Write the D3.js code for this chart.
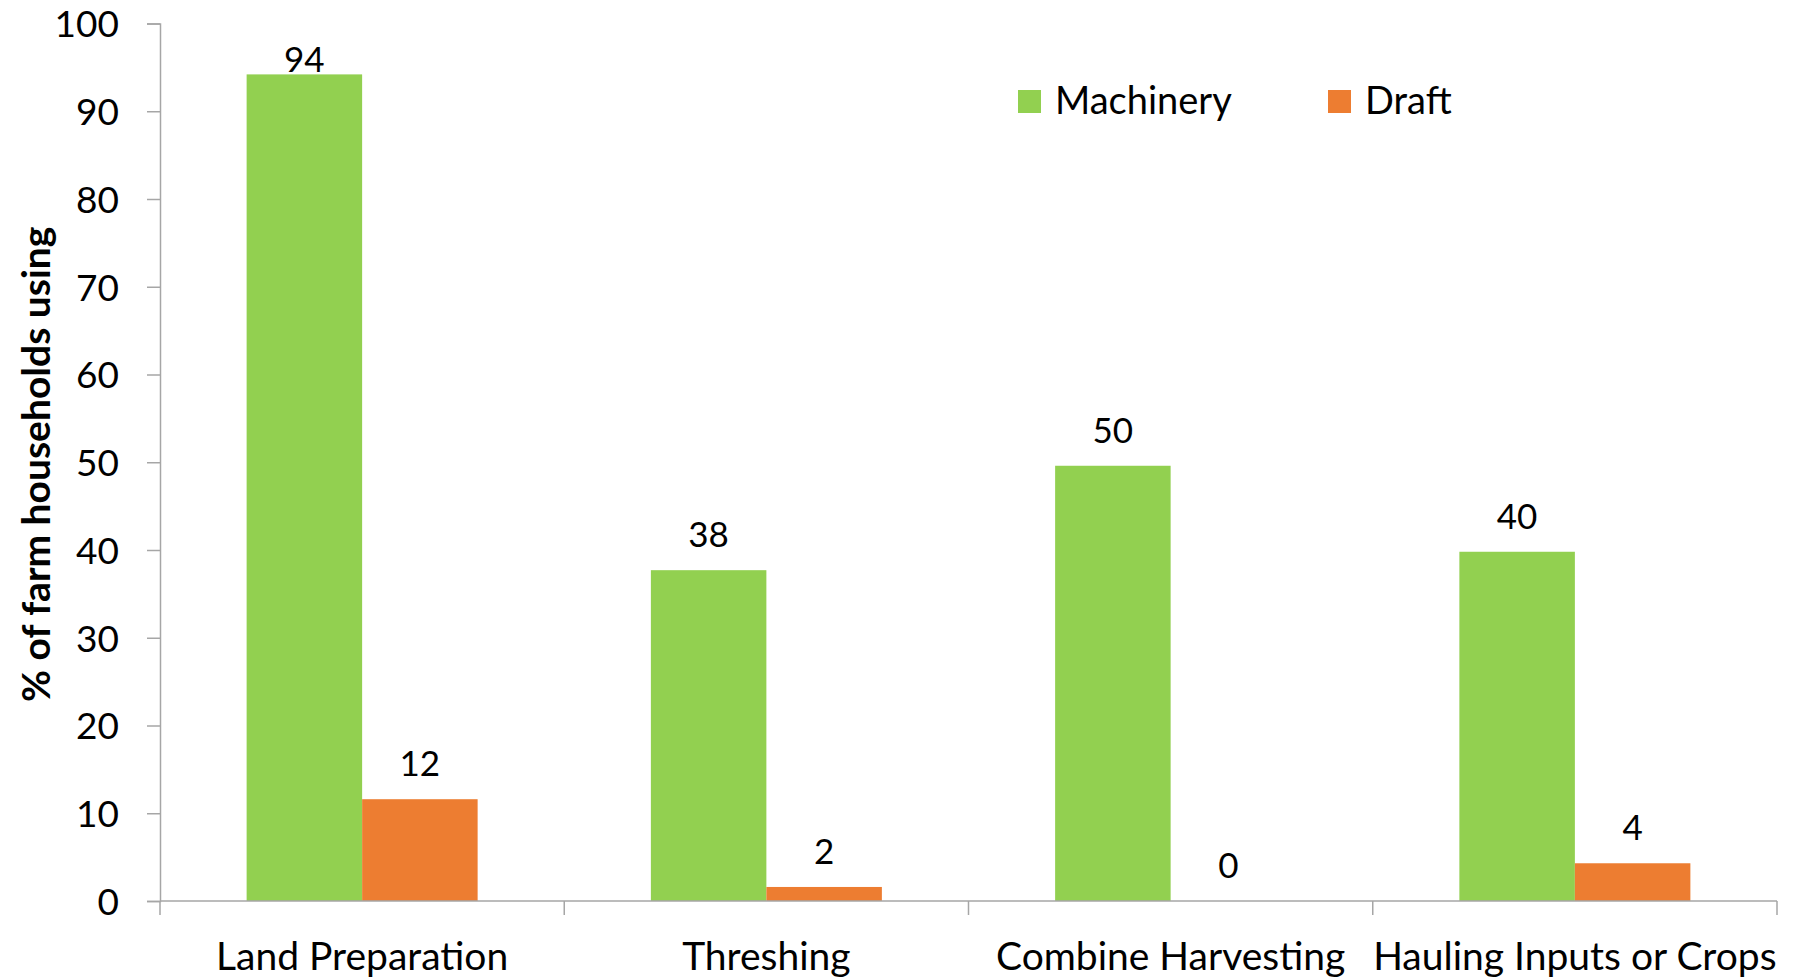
<!DOCTYPE html>
<html>
<head>
<meta charset="utf-8">
<script src="https://cdn.jsdelivr.net/npm/d3@7/dist/d3.min.js"></script>
<style>
  html, body { margin: 0; padding: 0; background: #ffffff; }
  svg { display: block; font-family: Lato, "Open Sans", sans-serif; }
</style>
</head>
<body>
<svg id="chart" width="1798" height="980"></svg>
<script>
const categories = ["Land Preparation", "Threshing", "Combine Harvesting", "Hauling Inputs or Crops"];
const seriesNames = ["Machinery", "Draft"];
const machinery = [94.2, 37.7, 49.6, 39.8];
const draft = [11.6, 1.6, 0, 4.3];
const machineryLabels = ["94", "38", "50", "40"];
const draftLabels = ["12", "2", "0", "4"];
const yTicks = [0, 10, 20, 30, 40, 50, 60, 70, 80, 90, 100];
const yTitle = "% of farm households using";
const colors = ["#92D050", "#ED7D31"];

const svg = d3.select("#chart");
const mLeft = 160, mRight = 1777, mTop = 23.5, mBottom = 901;
const axisColor = "#a6a6a6";

const x = d3.scaleBand().domain(categories).range([mLeft, mRight]).paddingInner(0).paddingOuter(0);
const xs = d3.scaleBand().domain(seriesNames).range([0, x.bandwidth()]).paddingInner(0).paddingOuter(0.75);
const y = d3.scaleLinear().domain([0, 100]).range([mBottom, mTop]);

const rows = categories.map((c, i) => ({
  cat: c,
  values: [
    { s: "Machinery", v: machinery[i], label: machineryLabels[i] },
    { s: "Draft", v: draft[i], label: draftLabels[i] }
  ]
}));

// bars
const groups = svg.append("g").selectAll("g").data(rows).join("g")
  .attr("transform", d => `translate(${x(d.cat)},0)`);
groups.selectAll("rect").data(d => d.values).join("rect")
  .attr("x", d => xs(d.s))
  .attr("width", xs.bandwidth())
  .attr("y", d => y(d.v))
  .attr("height", d => y(0) - y(d.v))
  .attr("fill", (d, i) => colors[i]);

// data labels
groups.selectAll("text").data(d => d.values).join("text")
  .attr("x", d => xs(d.s) + xs.bandwidth() / 2)
  .attr("y", d => Math.max(y(d.v) - 23, y(100) + 48))
  .attr("text-anchor", "middle")
  .attr("font-size", 35)
  .attr("fill", "#000")
  .text(d => d.label);

// y axis
const yAxis = svg.append("g").attr("transform", `translate(${mLeft},0)`)
  .call(d3.axisLeft(y).tickValues(yTicks).tickSize(13).tickPadding(28).tickFormat(d3.format("d")));
yAxis.select(".domain").attr("stroke", axisColor).attr("stroke-width", 1.5);
yAxis.selectAll(".tick line").attr("stroke", axisColor).attr("stroke-width", 1.5);
yAxis.selectAll(".tick text").attr("font-size", 37).attr("fill", "#000")
  .attr("font-family", "Lato, sans-serif").attr("dy", "0.36em");

// x axis
const xAxis = svg.append("g");
xAxis.append("line").attr("x1", mLeft).attr("x2", mRight).attr("y1", y(0)).attr("y2", y(0))
  .attr("stroke", axisColor).attr("stroke-width", 1.5);
const bounds = categories.map(c => x(c)).concat([x(categories[categories.length - 1]) + x.bandwidth()]);
xAxis.selectAll("line.tk").data(bounds).join("line").attr("class", "tk")
  .attr("x1", d => d).attr("x2", d => d).attr("y1", y(0)).attr("y2", y(0) + 14)
  .attr("stroke", axisColor).attr("stroke-width", 1.5);
xAxis.selectAll("text").data(categories).join("text")
  .attr("x", d => x(d) + x.bandwidth() / 2)
  .attr("y", 970)
  .attr("text-anchor", "middle")
  .attr("font-size", 39)
  .attr("fill", "#000")
  .text(d => d);

// y title
svg.append("text")
  .attr("transform", `translate(50,${(mTop + mBottom) / 2 + 2}) rotate(-90)`)
  .attr("text-anchor", "middle")
  .attr("font-size", 39)
  .attr("font-weight", "bold")
  .attr("fill", "#000")
  .text(yTitle);

// legend
const legendX = [1018, 1328];
const legend = svg.append("g").selectAll("g").data(seriesNames).join("g")
  .attr("transform", (d, i) => `translate(${legendX[i]},90)`);
legend.append("rect").attr("width", 23).attr("height", 23).attr("fill", (d, i) => colors[i]);
legend.append("text").attr("x", 37).attr("y", 24).attr("font-size", 38).attr("fill", "#000").text(d => d);
</script>
</body>
</html>
